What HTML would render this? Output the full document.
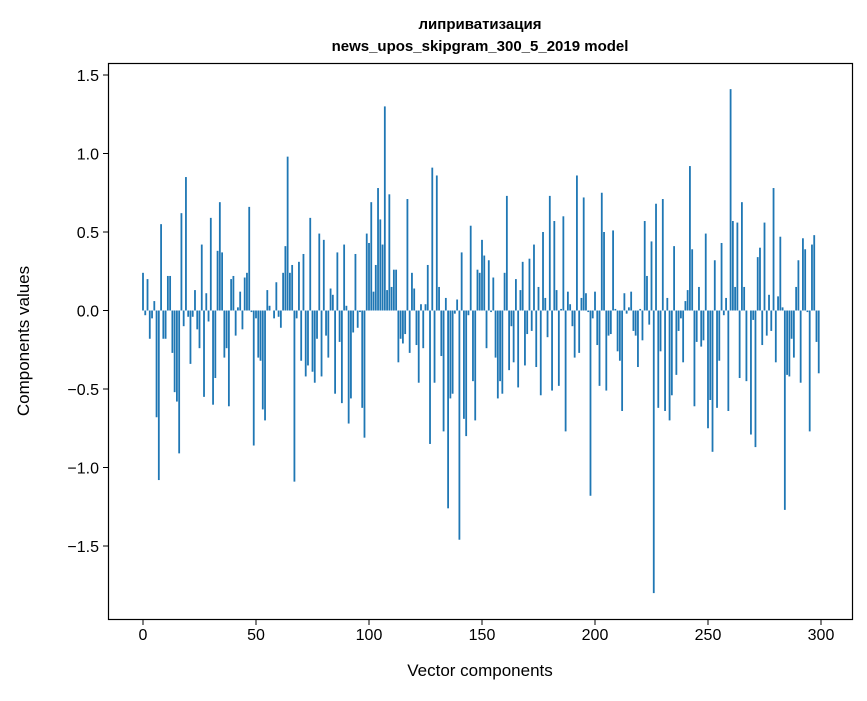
<!DOCTYPE html>
<html><head><meta charset="utf-8"><style>
body{margin:0;background:#fff;}
svg text{font-family:"Liberation Sans","DejaVu Sans",sans-serif;fill:#000;}
</style></head><body>
<svg id="s" width="867" height="696" xmlns="http://www.w3.org/2000/svg">
<rect width="867" height="696" fill="#fff"/>
<text x="480" y="29" font-size="15" font-weight="bold" text-anchor="middle">липриватизация</text>
<text x="480" y="51" font-size="15" font-weight="bold" text-anchor="middle">news_upos_skipgram_300_5_2019 model</text>
<g id="bars"></g>
<rect x="108.5" y="63.5" width="744" height="556" fill="none" stroke="#000" stroke-width="1.2"/>
<g id="ticks" font-size="16"></g>
<text x="480" y="676" font-size="17" text-anchor="middle">Vector components</text>
<text transform="translate(29,341) rotate(-90)" font-size="17" text-anchor="middle">Components values</text>
</svg>
<script>
var v=[0.24,-0.03,0.2,-0.18,-0.05,0.06,-0.68,-1.08,0.55,-0.18,-0.18,0.22,0.22,-0.27,-0.52,-0.58,-0.91,0.62,-0.1,0.85,-0.04,-0.34,-0.04,0.13,-0.12,-0.24,0.42,-0.55,0.11,-0.07,0.59,-0.6,-0.43,0.38,0.69,0.37,-0.3,-0.24,-0.61,0.2,0.22,-0.16,0.02,0.12,-0.12,0.21,0.24,0.66,-0.01,-0.86,-0.05,-0.3,-0.32,-0.63,-0.7,0.13,0.03,0.0,-0.05,0.18,-0.04,-0.11,0.24,0.41,0.98,0.24,0.29,-1.09,-0.05,0.31,-0.32,0.36,-0.42,-0.35,0.59,-0.39,-0.46,-0.18,0.49,-0.42,0.45,-0.16,-0.3,0.14,0.1,-0.53,0.37,-0.2,-0.59,0.42,0.03,-0.72,-0.56,-0.14,0.36,-0.11,-0.01,-0.62,-0.81,0.49,0.43,0.69,0.12,0.29,0.78,0.58,0.42,1.3,0.13,0.74,0.15,0.26,0.26,-0.33,-0.18,-0.21,-0.15,0.71,-0.27,0.24,0.14,-0.22,-0.46,0.04,-0.24,0.04,0.29,-0.85,0.91,-0.46,0.86,0.15,-0.29,-0.77,0.08,-1.26,-0.56,-0.53,-0.02,0.07,-1.46,0.37,-0.69,-0.8,-0.03,0.54,-0.45,-0.7,0.26,0.24,0.45,0.35,-0.24,0.32,-0.01,0.21,-0.3,-0.56,-0.45,-0.53,0.24,0.73,-0.38,-0.1,-0.33,0.2,-0.49,0.13,0.31,-0.35,-0.15,0.33,-0.13,0.42,-0.36,0.15,-0.54,0.5,0.08,-0.17,0.73,-0.51,0.57,0.13,-0.48,0.01,0.6,-0.77,0.12,0.04,-0.1,-0.3,0.86,-0.27,0.08,0.72,0.11,-0.01,-1.18,-0.05,0.12,-0.22,-0.48,0.75,0.5,-0.51,-0.16,-0.15,0.51,0.01,-0.26,-0.32,-0.64,0.11,-0.02,0.02,0.12,-0.13,-0.16,-0.36,0.01,-0.19,0.57,0.22,-0.09,0.44,-1.8,0.68,-0.62,-0.26,0.71,-0.64,0.08,-0.7,-0.54,0.41,-0.41,-0.13,-0.05,-0.33,0.06,0.13,0.92,0.39,-0.61,-0.2,0.15,-0.23,-0.19,0.49,-0.75,-0.57,-0.9,0.32,-0.62,-0.32,0.43,-0.03,0.08,-0.64,1.41,0.57,0.15,0.56,-0.43,0.69,0.15,-0.45,0.0,-0.79,-0.06,-0.87,0.34,0.4,-0.22,0.56,-0.16,0.1,-0.13,0.78,-0.33,0.09,0.47,0.02,-1.27,-0.41,-0.42,-0.18,-0.3,0.15,0.32,-0.46,0.46,0.39,-0.01,-0.77,0.42,0.48,-0.2,-0.4];
var X=function(i){return 143+2.26*i;}, Y=function(y){return 310.5-157*y;};
var g=document.getElementById("bars"),h="";
for(var i=0;i<v.length;i++){var y0=Y(0),y1=Y(v[i]);h+='<rect x="'+(X(i)-0.9).toFixed(2)+'" y="'+Math.min(y0,y1).toFixed(2)+'" width="1.8" height="'+Math.abs(y1-y0).toFixed(2)+'" fill="#1f77b4"/>';}
g.innerHTML=h;
var t="";
[0,50,100,150,200,250,300].forEach(function(k){var x=X(k);t+='<line x1="'+x+'" x2="'+x+'" y1="620" y2="625" stroke="#000"/><text x="'+x+'" y="640" text-anchor="middle">'+k+'</text>';});
[1.5,1.0,0.5,0.0,-0.5,-1.0,-1.5].forEach(function(k){var y=Y(k);t+='<line x1="103" x2="108" y1="'+y+'" y2="'+y+'" stroke="#000"/><text x="99" y="'+(y+6)+'" text-anchor="end">'+(k<0?'\u2212':'')+Math.abs(k).toFixed(1)+'</text>';});
document.getElementById("ticks").innerHTML=t;
</script>
</body></html>
